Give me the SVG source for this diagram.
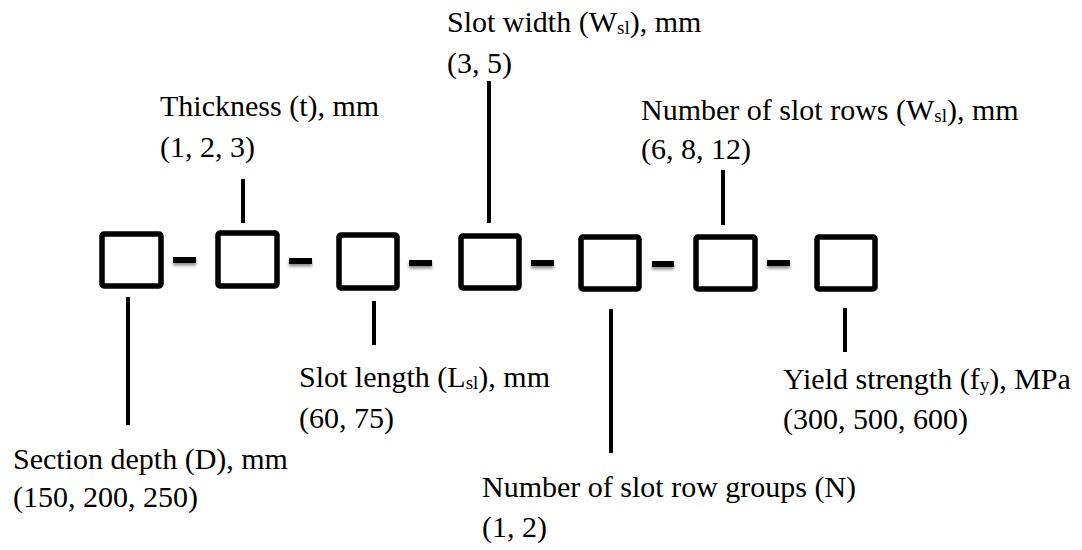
<svg xmlns="http://www.w3.org/2000/svg" width="1082" height="550" viewBox="0 0 1082 550">
  <defs>
    <filter id="sh" x="-30%" y="-100%" width="160%" height="400%">
      <feDropShadow dx="0" dy="2.5" stdDeviation="1.6" flood-color="#000" flood-opacity="0.45"/>
    </filter>
  </defs>
  <style>
    .box { fill: none; stroke: #000; stroke-width: 5.5; stroke-linejoin: round; }
    .dash { fill: #000; filter: url(#sh); }
    .ln { stroke: #000; stroke-width: 4; fill: none; }
    .t { font-family: "Liberation Serif", "DejaVu Serif", serif; font-size: 30px; fill: #000; }
    .sub { font-size: 19px; }
  </style>
  <rect width="1082" height="550" fill="#fff"/>

  <g id="node-depth">
    <rect class="box" x="102" y="234" width="59" height="52" rx="2"/>
    <text class="t" x="13" y="469">Section depth (D), mm</text>
    <text class="t" x="13" y="507">(150, 200, 250)</text>
  </g>
  <g id="node-thickness">
    <rect class="box" x="218" y="233" width="59" height="53" rx="2"/>
    <text class="t" x="160" y="116">Thickness (t), mm</text>
    <text class="t" x="160" y="157">(1, 2, 3)</text>
  </g>
  <g id="node-slot-length">
    <rect class="box" x="339" y="235" width="58" height="53" rx="2"/>
    <text class="t" x="299" y="387">Slot length (L<tspan class="sub" dy="2">sl</tspan><tspan dy="-2">), mm</tspan></text>
    <text class="t" x="299" y="428">(60, 75)</text>
  </g>
  <g id="node-slot-width">
    <rect class="box" x="461" y="236" width="58" height="52" rx="2"/>
    <text class="t" x="447" y="32">Slot width (W<tspan class="sub" dy="2">sl</tspan><tspan dy="-2">), mm</tspan></text>
    <text class="t" x="447" y="73">(3, 5)</text>
  </g>
  <g id="node-row-groups">
    <rect class="box" x="581" y="237" width="58" height="52" rx="2"/>
    <text class="t" x="482" y="497">Number of slot row groups (N)</text>
    <text class="t" x="482" y="537">(1, 2)</text>
  </g>
  <g id="node-slot-rows">
    <rect class="box" x="696" y="237" width="59" height="52" rx="2"/>
    <text class="t" x="641" y="120">Number of slot rows (W<tspan class="sub" dy="2">sl</tspan><tspan dy="-2">), mm</tspan></text>
    <text class="t" x="641" y="159">(6, 8, 12)</text>
  </g>
  <g id="node-yield">
    <rect class="box" x="817" y="237" width="58" height="52" rx="2"/>
    <text class="t" x="783" y="389">Yield strength (f<tspan class="sub" dy="2">y</tspan><tspan dy="-2">), MPa</tspan></text>
    <text class="t" x="783" y="429">(300, 500, 600)</text>
  </g>

  <g id="separators">
    <rect class="dash" x="173" y="257" width="23" height="6"/>
    <rect class="dash" x="289" y="258" width="23" height="6"/>
    <rect class="dash" x="409" y="260" width="23" height="6"/>
    <rect class="dash" x="531" y="260" width="23" height="6"/>
    <rect class="dash" x="652" y="261" width="22" height="6"/>
    <rect class="dash" x="767" y="260" width="23" height="6"/>
  </g>

  <g id="connectors">
    <line class="ln" x1="128" y1="297" x2="128" y2="425"/>
    <line class="ln" x1="243" y1="179" x2="243" y2="223"/>
    <line class="ln" x1="374" y1="301" x2="374" y2="345"/>
    <line class="ln" x1="489" y1="81" x2="489" y2="223"/>
    <line class="ln" x1="611" y1="309" x2="611" y2="453"/>
    <line class="ln" x1="723" y1="170" x2="723" y2="225"/>
    <line class="ln" x1="845" y1="308" x2="845" y2="352"/>
  </g>
</svg>
